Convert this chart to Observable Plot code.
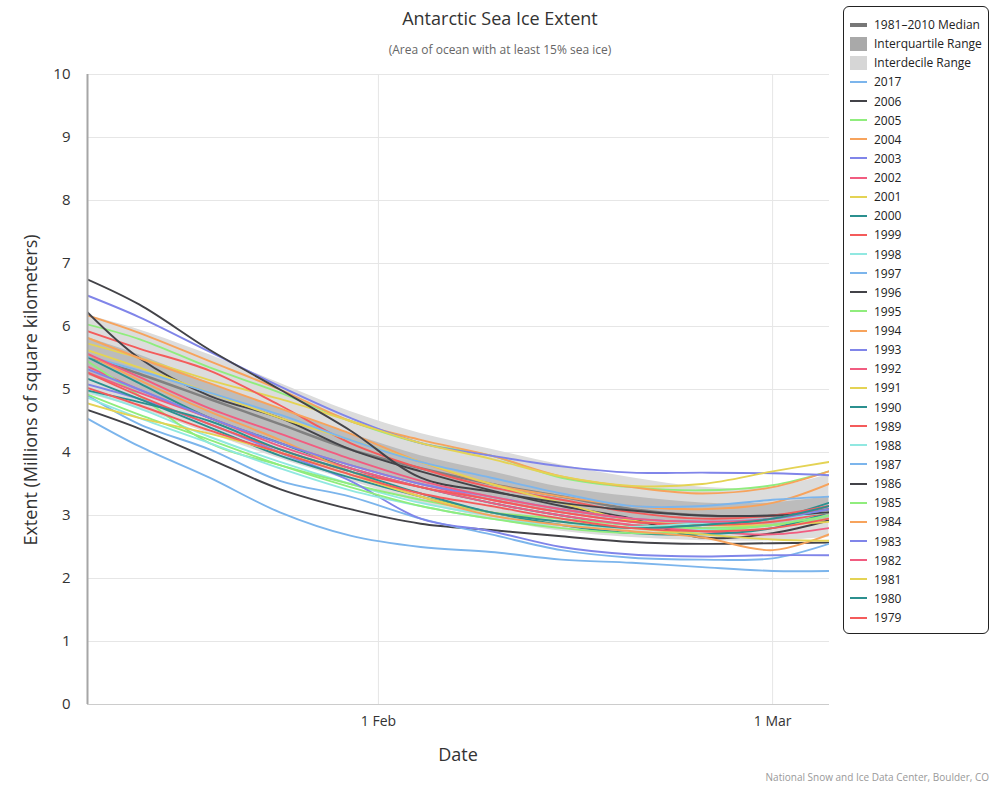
<!DOCTYPE html>
<html><head><meta charset="utf-8">
<script src="https://cdn.jsdelivr.net/npm/d3@7"></script>
<script src="https://cdn.jsdelivr.net/npm/@observablehq/plot@0.6"></script>
<style>
body{margin:0;background:#fff;font-family:"Open Sans",sans-serif;}
#wrap{position:relative;width:1000px;height:787px;overflow:hidden;}
#wrap svg{position:absolute;left:0;top:0;}
.t{position:absolute;white-space:nowrap;color:#333;}
#title{left:0;width:1000px;top:6px;text-align:center;font-size:18px;color:#333;}
#subtitle{left:0;width:1000px;top:41px;text-align:center;font-size:12px;color:#666;}
#ytitle{left:30px;top:390px;font-size:18px;transform:translate(-50%,-50%) rotate(-90deg);}
#xtitle{left:458px;top:754px;font-size:18px;transform:translate(-50%,-50%);}
#credit{right:11px;top:770px;font-size:10px;color:#999;}
#legend{position:absolute;left:843px;top:6px;width:144px;height:626px;border:1px solid #222;border-radius:6px;background:#fff;}
.li{position:absolute;left:6px;height:19px;display:flex;align-items:center;font-size:12px;color:#222;}
.sym{width:17px;margin-right:7px;display:inline-block;}
</style></head><body><div id="wrap">
<div id="title" class="t">Antarctic Sea Ice Extent</div>
<div id="subtitle" class="t">(Area of ocean with at least 15% sea ice)</div>
<div id="ytitle" class="t">Extent (Millions of square kilometers)</div>
<div id="xtitle" class="t">Date</div>
<div id="credit" class="t">National Snow and Ice Data Center, Boulder, CO</div>
<div id="legend"></div>
</div>
<script>
// Sample dates (day of season)
const dates = ["2017-01-11","2017-01-15","2017-01-20","2017-01-25","2017-01-30","2017-02-04","2017-02-09","2017-02-14","2017-02-19","2017-02-24","2017-03-01","2017-03-05"];
const xTicks = ["2017-02-01","2017-03-01"];
const yTicks = [0,1,2,3,4,5,6,7,8,9,10];

// 1981-2010 climatology bands
const idrLow  = [4.95,4.70,4.30,3.90,3.55,3.20,2.95,2.75,2.65,2.60,2.60,2.65];
const iqrLow  = [5.25,4.95,4.55,4.15,3.80,3.50,3.25,3.05,2.90,2.85,2.85,2.90];
const median  = [5.55,5.25,4.85,4.45,4.05,3.75,3.50,3.30,3.10,3.00,3.00,3.10];
const iqrHigh = [5.85,5.55,5.10,4.70,4.30,3.95,3.70,3.45,3.30,3.20,3.20,3.30];
const idrHigh = [6.20,5.95,5.55,5.10,4.65,4.30,4.05,3.80,3.60,3.45,3.45,3.65];

// Yearly extents (millions of km²)
const v2017 = [4.58,4.10,3.60,3.05,2.68,2.50,2.42,2.30,2.25,2.18,2.12,2.12];
const v2006 = [4.70,4.38,3.90,3.42,3.10,2.87,2.77,2.67,2.58,2.55,2.56,2.57];
const v2005 = [6.05,5.80,5.35,4.95,4.50,4.15,3.95,3.60,3.45,3.40,3.48,3.70];
const v2004 = [6.20,5.90,5.45,5.00,4.50,4.20,3.95,3.62,3.45,3.35,3.45,3.70];
const v2003 = [6.52,6.15,5.60,5.05,4.55,4.15,3.95,3.78,3.68,3.68,3.67,3.64];
const v2002 = [5.40,5.00,4.55,4.15,3.80,3.50,3.25,3.05,2.90,2.80,2.85,3.00];
const v2001 = [5.75,5.50,5.15,4.85,4.50,4.15,3.90,3.62,3.47,3.50,3.70,3.85];
const v2000 = [5.55,5.10,4.55,4.15,3.75,3.45,3.20,3.00,2.85,2.85,2.95,3.20];
const v1999 = [5.95,5.65,5.30,4.75,4.15,3.75,3.45,3.25,3.05,2.95,3.00,3.15];
const v1998 = [5.00,4.70,4.25,3.85,3.50,3.20,3.00,2.85,2.80,2.78,2.85,3.00];
const v1997 = [4.95,4.45,4.05,3.55,3.30,2.95,2.70,2.45,2.33,2.30,2.32,2.55];
const v1996 = [6.30,5.50,4.90,4.55,4.05,3.70,3.40,3.15,2.95,2.65,2.72,2.92];
const v1995 = [5.50,4.90,4.15,3.80,3.50,3.25,3.05,2.95,2.85,2.80,2.85,2.95];
const v1994 = [5.85,5.50,5.10,4.70,4.30,3.85,3.50,3.30,3.15,3.10,3.20,3.50];
const v1993 = [5.10,4.85,4.45,4.00,3.55,2.95,2.75,2.50,2.38,2.35,2.37,2.37];
const v1992 = [5.30,4.95,4.55,4.10,3.75,3.45,3.20,3.00,2.85,2.75,2.70,2.80];
const v1991 = [5.65,5.35,4.95,4.55,4.20,3.85,3.50,3.20,2.92,2.85,2.85,2.90];
const v1990 = [5.20,4.85,4.40,3.95,3.60,3.30,3.05,2.85,2.72,2.70,2.80,3.05];
const v1989 = [5.30,4.90,4.45,4.05,3.70,3.45,3.25,3.05,2.90,2.85,2.90,3.05];
const v1988 = [4.90,4.55,4.15,3.75,3.40,3.15,2.95,2.85,2.82,2.88,2.95,3.05];
const v1987 = [5.55,5.30,4.95,4.60,4.20,3.85,3.60,3.35,3.15,3.15,3.25,3.30];
const v1986 = [6.78,6.35,5.63,5.00,4.35,3.60,3.38,3.20,3.08,3.00,3.00,3.05];
const v1985 = [4.95,4.60,4.20,3.80,3.45,3.15,2.95,2.80,2.72,2.75,2.85,3.00];
const v1984 = [5.60,5.15,4.65,4.20,3.70,3.30,3.00,2.85,2.75,2.65,2.45,2.70];
const v1983 = [5.35,5.00,4.55,4.15,3.80,3.50,3.30,3.10,2.95,2.90,2.95,3.10];
const v1982 = [5.60,5.20,4.70,4.30,3.90,3.55,3.30,3.10,2.95,2.90,2.95,3.15];
const v1981 = [4.80,4.55,4.30,4.00,3.65,3.30,3.05,2.90,2.80,2.70,2.62,2.60];
const v1980 = [5.00,4.80,4.50,4.05,3.70,3.35,3.05,2.90,2.80,2.85,2.95,3.15];
const v1979 = [5.05,4.75,4.35,4.00,3.65,3.35,3.15,2.95,2.80,2.75,2.80,2.95];

const years = ["2017","2006","2005","2004","2003","2002","2001","2000","1999","1998","1997","1996","1995","1994","1993","1992","1991","1990","1989","1988","1987","1986","1985","1984","1983","1982","1981","1980","1979"];
const yearValues = [v2017,v2006,v2005,v2004,v2003,v2002,v2001,v2000,v1999,v1998,v1997,v1996,v1995,v1994,v1993,v1992,v1991,v1990,v1989,v1988,v1987,v1986,v1985,v1984,v1983,v1982,v1981,v1980,v1979];
const palette = ["#7cb5ec","#434348","#90ed7d","#f7a35c","#8085e9","#f15c80","#e4d354","#2b908f","#f45b5b","#91e8e1"];
const colors = years.map((y,i)=>palette[i % palette.length]);

const parse = d3.utcParse("%Y-%m-%d");
const rows = [];
years.forEach((yr,k)=>yearValues[k].forEach((v,i)=>rows.push({year:yr, date:parse(dates[i]), value:v})));
const bands = dates.map((d,i)=>({date:parse(d), idrLow:idrLow[i], iqrLow:iqrLow[i], median:median[i], iqrHigh:iqrHigh[i], idrHigh:idrHigh[i]}));
const x0 = new Date(Date.UTC(2017,0,11,8)), x1 = new Date(Date.UTC(2017,2,5,1));
const curve = "catmull-rom";

const chart = Plot.plot({
  width:1000, height:787,
  marginLeft:87, marginRight:171, marginTop:74, marginBottom:83,
  style:{fontFamily:"'Open Sans',sans-serif", fontSize:"15px", color:"#333", background:"transparent", overflow:"visible"},
  x:{type:"utc", domain:[x0,x1]},
  y:{domain:[0,10]},
  color:{domain:years, range:colors},
  marks:[
    Plot.gridY(yTicks,{stroke:"#e6e6e6", strokeOpacity:1}),
    Plot.gridX(xTicks.map(parse),{stroke:"#e6e6e6", strokeOpacity:1}),
    Plot.areaY(bands,{x:"date", y1:"idrLow", y2:"idrHigh", fill:"#dcdcdc", curve, clip:true}),
    Plot.areaY(bands,{x:"date", y1:"iqrLow", y2:"iqrHigh", fill:"#bcbcbc", curve, clip:true}),
    Plot.lineY(bands,{x:"date", y:"median", stroke:"#808080", strokeWidth:2.5, curve, clip:true}),
    Plot.lineY(rows,{x:"date", y:"value", z:"year", stroke:"year", strokeWidth:1.9, curve, clip:true}),
    Plot.ruleX([x0],{stroke:"#a6a6a6", strokeWidth:2}),
    Plot.ruleY([0],{stroke:"#cccccc", strokeWidth:1}),
    Plot.axisY(yTicks,{tickSize:0, tickPadding:17, label:null, fontSize:15, tickFormat:d3.format("d")}),
    Plot.axisX(xTicks.map(parse),{tickSize:0, tickPadding:12, label:null, fontSize:14, tickFormat:d3.utcFormat("%-d %b")})
  ]
});
document.getElementById("wrap").prepend(chart);

// Legend
const lg = document.getElementById("legend");
const items = [{label:"1981-2010 Median", kind:"median"},{label:"Interquartile Range", kind:"iqr"},{label:"Interdecile Range", kind:"idr"}]
  .concat(years.map((y,i)=>({label:y, kind:"line", color:colors[i]})));
items.forEach((it,i)=>{
  const d = document.createElement("div");
  d.className = "li";
  d.style.top = (8 + i*19.13) + "px";
  let sym;
  if (it.kind==="median") sym = '<span class="sym" style="height:4px;background:#777"></span>';
  else if (it.kind==="iqr") sym = '<span class="sym" style="height:14px;background:#a9a9a9"></span>';
  else if (it.kind==="idr") sym = '<span class="sym" style="height:14px;background:#d6d6d6"></span>';
  else sym = '<span class="sym" style="height:2px;background:'+it.color+'"></span>';
  d.innerHTML = sym + '<span>' + it.label.replace("-", "\u2013") + '</span>';
  lg.appendChild(d);
});
</script>
</body></html>
